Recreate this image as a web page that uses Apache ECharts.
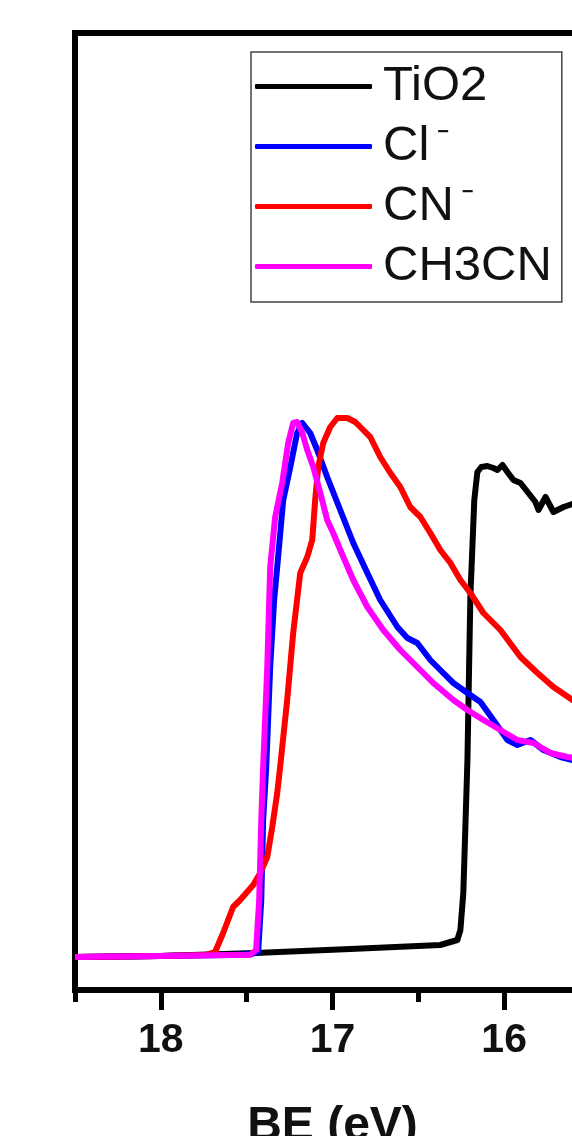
<!DOCTYPE html>
<html>
<head>
<meta charset="utf-8">
<script src="https://cdn.jsdelivr.net/npm/echarts@6/dist/echarts.min.js"></script>
<style>
  html, body { margin: 0; padding: 0; background: #fff; }
  #chart { width: 572px; height: 1136px; }
</style>
</head>
<body>
<div id="chart"></div>
<script>
// binding energy (eV) and intensity (a.u.)
var tio2BE = [18.5, 18.004, 17.45, 16.896, 16.372, 16.273, 16.255, 16.238, 16.226, 16.214, 16.197, 16.174, 16.156, 16.133, 16.098, 16.063, 16.039, 16.01, 15.981, 15.946, 15.905, 15.859, 15.818, 15.8, 15.759, 15.713, 15.654, 15.584, 15.5];
var tio2I  = [36, 37, 40, 44, 48, 53, 63, 100, 166, 233, 396, 493, 521, 526, 527, 525, 523, 528, 521, 513, 510, 500, 491, 483, 496, 481, 486, 490, 493];

var clBE = [18.5, 18.004, 17.596, 17.468, 17.433, 17.415, 17.404, 17.386, 17.363, 17.34, 17.322, 17.287, 17.246, 17.206, 17.176, 17.13, 17.089, 17.031, 16.955, 16.879, 16.797, 16.722, 16.622, 16.564, 16.506, 16.43, 16.372, 16.296, 16.214, 16.138, 16.063, 15.981, 15.923, 15.847, 15.771, 15.672, 15.602, 15.5];
var clI  = [36, 37, 38, 39, 41, 93, 173, 226, 326, 393, 426, 493, 526, 560, 570, 560, 543, 516, 483, 450, 420, 393, 366, 355, 350, 333, 323, 310, 300, 291, 273, 253, 248, 253, 243, 236, 233, 230];

var cnBE = [18.5, 18.004, 17.742, 17.684, 17.637, 17.579, 17.538, 17.462, 17.421, 17.38, 17.351, 17.322, 17.305, 17.264, 17.229, 17.188, 17.147, 17.118, 17.101, 17.083, 17.054, 17.013, 16.972, 16.914, 16.867, 16.821, 16.78, 16.722, 16.663, 16.605, 16.547, 16.488, 16.43, 16.372, 16.313, 16.255, 16.197, 16.121, 16.022, 15.905, 15.806, 15.713, 15.602, 15.5];
var cnI  = [36, 37, 38, 41, 60, 86, 93, 108, 120, 136, 166, 200, 226, 293, 360, 420, 436, 453, 493, 526, 550, 566, 575, 575, 571, 563, 556, 536, 520, 506, 486, 476, 460, 443, 430, 413, 400, 380, 363, 336, 320, 306, 293, 281];

var ch3cnBE = [18.5, 18.004, 17.596, 17.48, 17.445, 17.427, 17.415, 17.404, 17.38, 17.363, 17.334, 17.293, 17.258, 17.229, 17.206, 17.176, 17.147, 17.112, 17.071, 17.031, 16.996, 16.937, 16.879, 16.797, 16.704, 16.605, 16.506, 16.413, 16.296, 16.214, 16.121, 16.022, 15.923, 15.829, 15.73, 15.631, 15.5];
var ch3cnI  = [36, 37, 38, 38, 43, 93, 173, 226, 326, 426, 476, 510, 550, 570, 571, 560, 543, 526, 500, 473, 460, 436, 413, 386, 363, 343, 326, 310, 293, 283, 273, 263, 253, 250, 240, 236, 233];

var seriesNames = ['TiO2', 'Cl-', 'CN-', 'CH3CN'];
var seriesColors = ['#000000', '#0000ff', '#ff0000', '#ff00ff'];
var majorTicks = [16, 17, 18];
var minorTicks = [16.5, 17.5, 18.5];

function zip(xs, ys) {
    return xs.map(function (x, i) { return [x, ys[i]]; });
}

var chart = echarts.init(document.getElementById('chart'));

var dataSets = [zip(tio2BE, tio2I), zip(clBE, clI), zip(cnBE, cnI), zip(ch3cnBE, ch3cnI)];

var axisCommon = {
    type: 'value',
    min: 15.5,
    max: 18.5,
    inverse: true,
    position: 'bottom',
    splitLine: { show: false }
};

chart.setOption({
    animation: false,
    backgroundColor: '#fff',
    grid: {
        left: 75, top: 33, right: -18, bottom: 146,
        outerBoundsMode: 'none',
        containLabel: false,
        show: true, borderColor: '#000', borderWidth: 6, backgroundColor: 'transparent'
    },
    legend: {
        orient: 'vertical',
        left: 251,
        top: 52,
        icon: 'roundRect',
        itemWidth: 117,
        itemHeight: 5,
        itemGap: 11,
        padding: [10, 10, 11, 4],
        borderColor: '#444',
        borderWidth: 1.5,
        data: seriesNames,
        formatter: function (name) {
            // charge sign drawn as a small raised minus
            return name.replace(/-$/, '{sup|\u2212}');
        },
        textStyle: {
            fontFamily: 'Liberation Sans',
            fontSize: 49,
            color: '#111',
            padding: [0, 0, 0, 6],
            rich: {
                sup: { fontFamily: 'Liberation Sans', fontSize: 20, fontWeight: 'bold', verticalAlign: 'top', padding: [0, 0, 0, 8], color: '#111' }
            }
        }
    },
    xAxis: [
        Object.assign({}, axisCommon, {
            name: 'BE (eV)',
            nameLocation: 'middle',
            nameGap: 113,
            nameTextStyle: { fontFamily: 'Liberation Sans', fontWeight: 'bold', fontSize: 48, color: '#111' },
            axisLine: { show: true, lineStyle: { color: '#000', width: 6 } },
            axisTick: { show: true, customValues: majorTicks, length: 20, lineStyle: { color: '#000', width: 5 } },
            axisLabel: {
                customValues: majorTicks,
                margin: 30,
                fontFamily: 'Liberation Sans', fontWeight: 'bold', fontSize: 41, color: '#111'
            }
        }),
        Object.assign({}, axisCommon, {
            axisLine: { show: false },
            axisTick: { show: true, customValues: minorTicks, length: 12, lineStyle: { color: '#000', width: 5 } },
            axisLabel: { show: false }
        })
    ],
    yAxis: {
        type: 'value',
        min: 3,
        max: 960,
        axisLine: { show: true, lineStyle: { color: '#000', width: 6 } },
        axisTick: { show: false },
        axisLabel: { show: false },
        splitLine: { show: false }
    },
    series: seriesNames.map(function (name, i) {
        return {
            name: name,
            type: 'line',
            xAxisIndex: 0,
            data: dataSets[i],
            showSymbol: false,
            symbol: 'none',
            color: seriesColors[i],
            lineStyle: { width: 6, color: seriesColors[i], join: 'round' }
        };
    })
});
</script>
</body>
</html>
